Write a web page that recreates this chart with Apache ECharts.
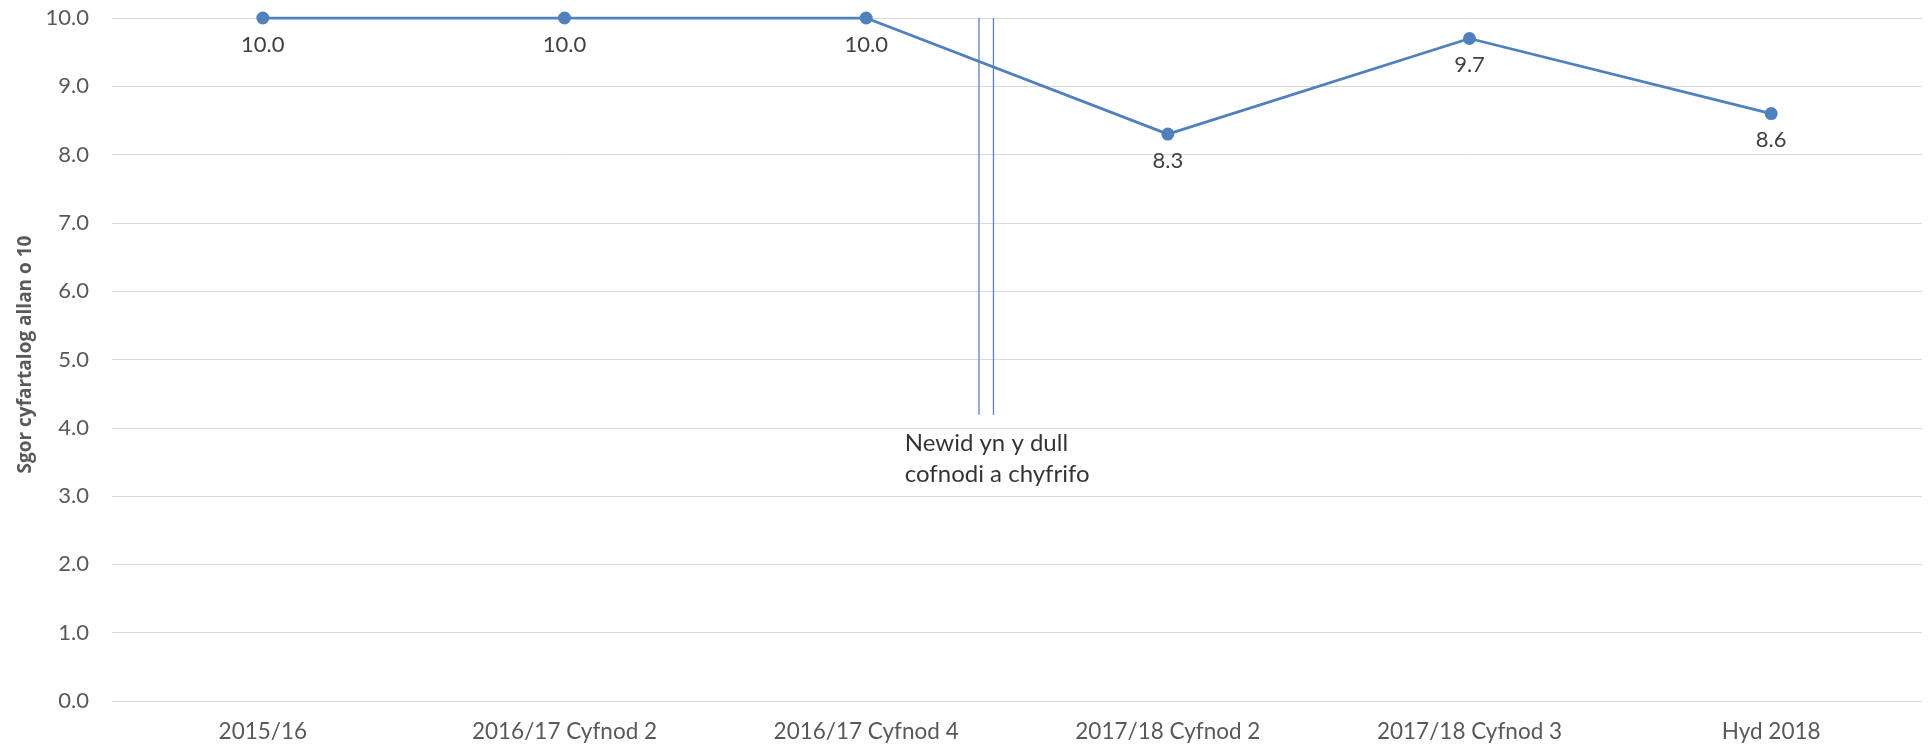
<!DOCTYPE html>
<html>
<head>
<meta charset="utf-8">
<script src="https://cdn.jsdelivr.net/npm/echarts@6/dist/echarts.min.js"></script>
<style>
html,body{margin:0;padding:0;background:#fff;}
#chart{width:1930px;height:747px;}
</style>
</head>
<body>
<div id="chart"></div>
<script>
const categories = ['2015/16','2016/17 Cyfnod 2','2016/17 Cyfnod 4','2017/18 Cyfnod 2','2017/18 Cyfnod 3','Hyd 2018'];
const scores = [10.0, 10.0, 10.0, 8.3, 9.7, 8.6];
const yTicks = [0,1,2,3,4,5,6,7,8,9,10];
// break marker positions in category units (0..6 across plot), and vertical span
const breakX = [2.874, 2.922];
const breakY = [10, 4.19];
const noteText = 'Newid yn y dull\ncofnodi a chyfrifo';
const notePos = [2.628, 3.55];

const FONT = 'Lato';
const chart = echarts.init(document.getElementById('chart'));
const breakSeries = breakX.map(x => ({
  type: 'line', xAxisIndex: 1, yAxisIndex: 0, silent: true, symbol: 'none',
  lineStyle: {color: '#5b80c4', width: 1.3},
  data: [[x, breakY[0]], [x, breakY[1]]], z: 1
}));
chart.setOption({
  animation: false,
  grid: {left: 112, right: 8, top: 18, bottom: 46},
  xAxis: [{
    type: 'category', data: categories, boundaryGap: true,
    axisLine: {show: true, lineStyle: {color: '#d9d9d9', width: 1}},
    axisTick: {show: false},
    axisLabel: {color: '#595959', fontFamily: FONT, fontSize: 22.5, margin: 19}
  }, {
    type: 'value', min: 0, max: 6, show: false
  }],
  yAxis: {
    type: 'value', min: 0, max: 10, interval: 1,
    name: 'Sgor cyfartalog allan o 10', nameLocation: 'middle', nameGap: 76,
    nameTextStyle: {color: '#595959', fontFamily: 'Open Sans', fontSize: 19, fontWeight: 'bold',
      padding: [0, 0, 0, 10]},
    axisLine: {show: false}, axisTick: {show: false},
    axisLabel: {color: '#595959', fontFamily: FONT, fontSize: 22, margin: 23,
      formatter: v => yTicks.includes(v) ? v.toFixed(1) : ''},
    splitLine: {lineStyle: {color: '#d9d9d9', width: 1}}
  },
  series: [{
    type: 'line', data: scores, xAxisIndex: 0,
    symbol: 'circle', symbolSize: 13,
    itemStyle: {color: '#4f81bd'},
    lineStyle: {color: '#4f81bd', width: 2.8},
    label: {show: true, position: 'bottom', distance: 9, color: '#404040',
      fontFamily: FONT, fontSize: 22, formatter: p => p.value.toFixed(1)},
    z: 3
  }, ...breakSeries, {
    type: 'scatter', xAxisIndex: 1, yAxisIndex: 0, symbolSize: 0, silent: true,
    data: [notePos],
    label: {show: true, position: 'right', distance: 0, formatter: noteText,
      color: '#000', fontFamily: FONT, fontSize: 24, lineHeight: 31, align: 'left'}
  }]
});
</script>
</body>
</html>
